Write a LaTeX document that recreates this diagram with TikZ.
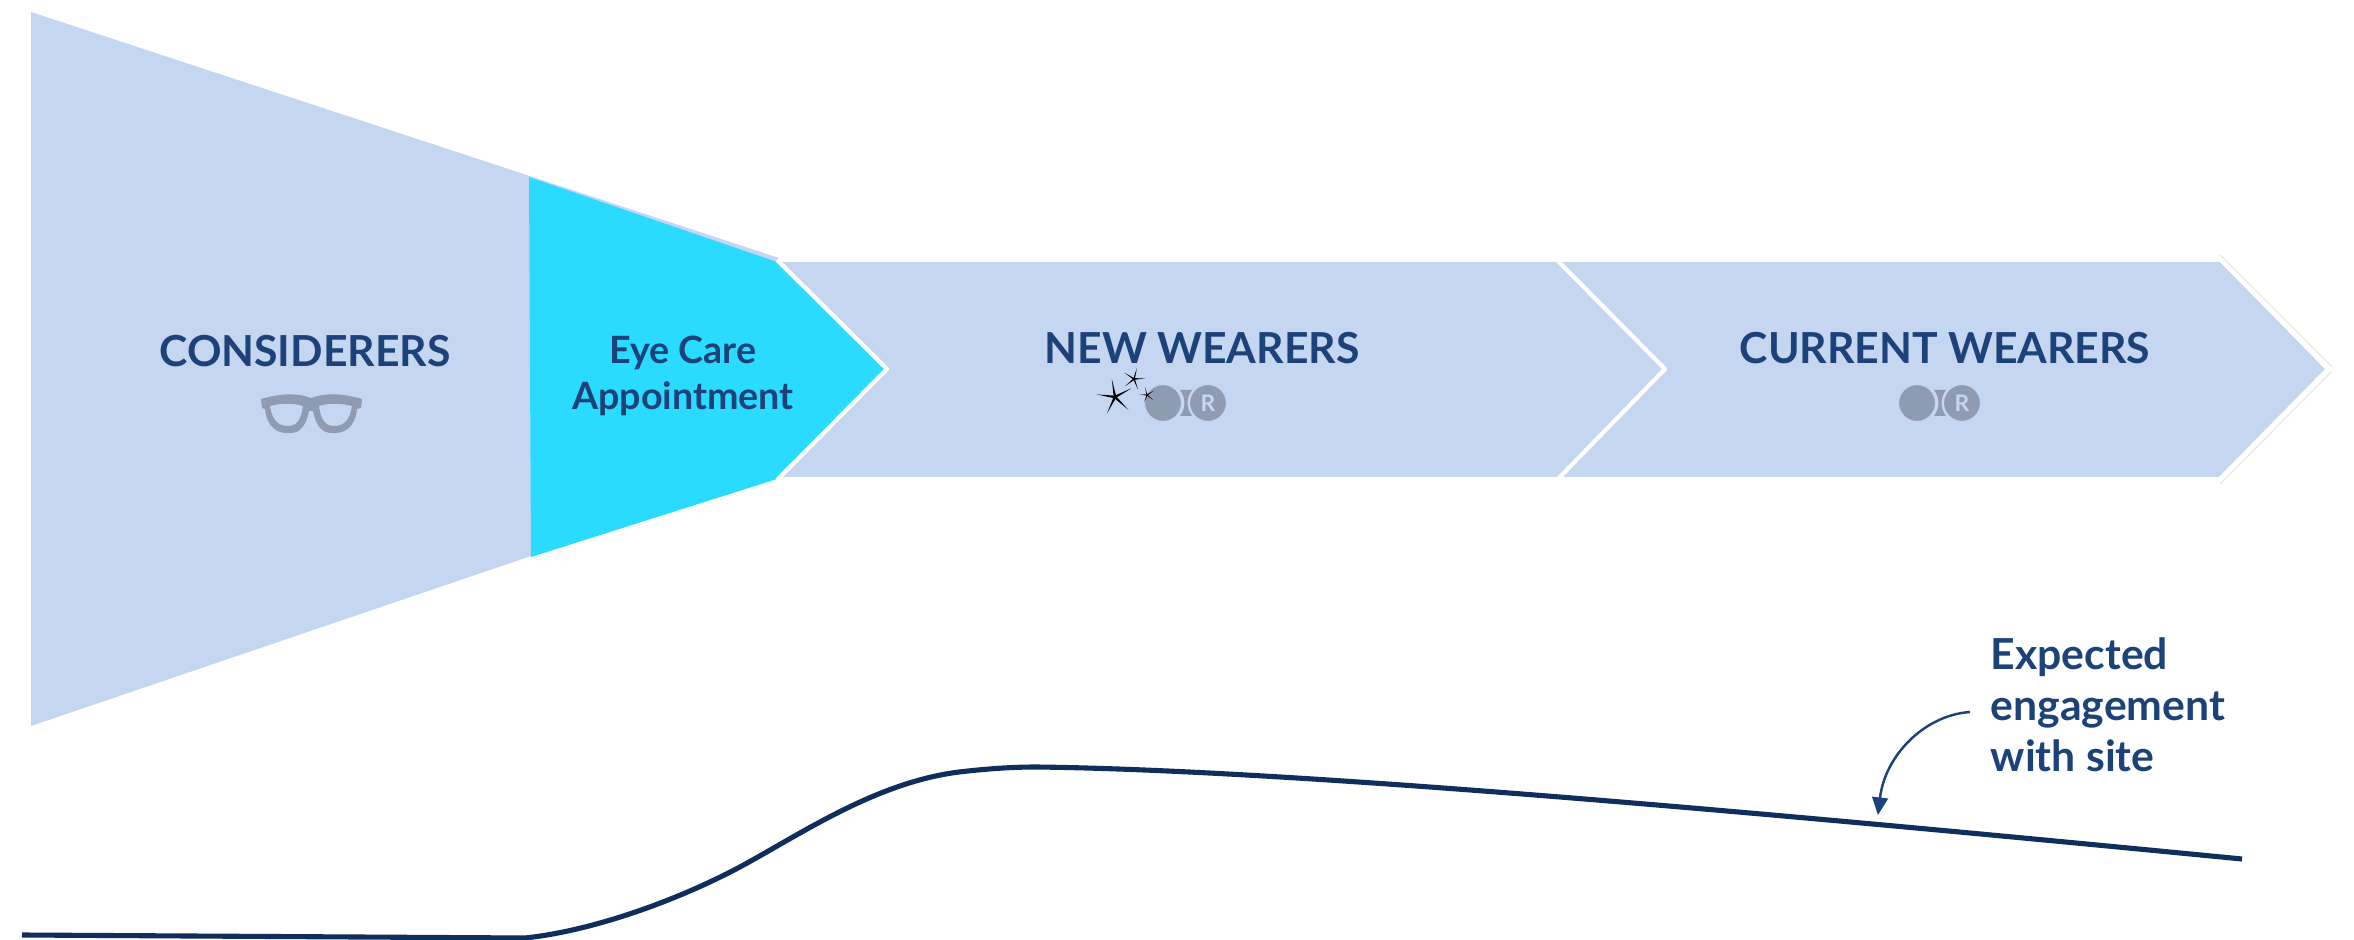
\documentclass[tikz,border=0pt]{standalone}
\usepackage{fontspec}
\setmainfont{Lato}
\definecolor{panelblue}{HTML}{C5D6F1}
\definecolor{cyan1}{HTML}{2ADBFF}
\definecolor{navy1}{HTML}{1C4279}
\definecolor{navy2}{HTML}{102E5C}
\definecolor{icongray}{HTML}{8E9BB0}
\definecolor{edgegray}{HTML}{E6E6E6}
\usetikzlibrary{shapes.geometric, arrows.meta, positioning}

\begin{document}
\begin{tikzpicture}[
  x=0.01cm, y=-0.01cm,
  title/.style  = {text=navy1, font=\fontsize{12.15}{15}\selectfont\bfseries, inner sep=0pt},
  appt/.style   = {text=navy1, font=\fontsize{10.7}{13.2}\selectfont\bfseries, align=center, inner sep=0pt},
  note/.style   = {text=navy1, font=\fontsize{12.15}{14.5}\selectfont\bfseries, align=left, inner sep=0pt},
  lens/.style   = {circle, fill=icongray, draw=panelblue, line width=0.3pt, minimum size=10.5pt, inner sep=0pt},
  spark/.style  = {star, star points=5, star point ratio=9, fill=black, inner sep=0pt},
  divide/.style = {draw=white, line width=1.2pt, line join=round},
  arr/.style    = {-{Triangle[length=5pt,width=4.5pt]}, navy1, line width=0.7pt}
]
\useasboundingbox (0,0) rectangle (2354,940);

% funnel and arrows
\fill[panelblue] (31,12) -- (779,258) -- (779,470) -- (531,556) -- (31,726) -- cycle;
\fill[panelblue] (777,262) -- (2220,262) -- (2329,369) -- (2220,477) -- (777,477) -- cycle;
\fill[cyan1] (529,177) -- (777,262) -- (887,369) -- (777,479) -- (531,557) -- cycle;

\draw[divide] (777,260) -- (887,369) -- (777,480);
\draw[divide] (1557,260) -- (1665,369) -- (1557,480);
\draw[divide] (2219,258) -- (2328,369) -- (2219,480);
\draw[edgegray, line width=0.3pt] (2220,255) -- (2332,367) (2332,371) -- (2220,484);

% labels
\node[title] (cons) at (305,351) {CONSIDERERS};
\node[appt]  (eye)  at (683,376) {Eye Care\\Appointment};
\node[title] (new)  at (1202,348) {NEW WEARERS};
\node[title] (curr) at (1945,348) {CURRENT WEARERS};

% glasses
\fill[icongray, even odd rule]
  (261,399) .. controls (285,392) and (300,394) .. (311,398) .. controls (322,394) and (338,392) .. (362,399)
  -- (361,408) -- (357,409) .. controls (355,428) and (344,434) .. (332,433)
  .. controls (322,433) and (316,426) .. (313,411) -- (309,411)
  .. controls (306,426) and (300,433) .. (290,433)
  .. controls (278,434) and (267,428) .. (265,409) -- (262,408) -- cycle
  (270,406) .. controls (280,403) and (295,403) .. (303,406) .. controls (301,421) and (296,426) .. (288,426)
  .. controls (278,426) and (272,420) .. (270,406) -- cycle
  (319,406) .. controls (327,403) and (342,403) .. (352,406) .. controls (350,420) and (344,426) .. (334,426)
  .. controls (326,426) and (321,421) .. (319,406) -- cycle;

% contact lenses
\foreach \nm/\cx in {newl/1163, curl/1917} {
  \fill[icongray] (\cx+17,390) .. controls (\cx+23,398) and (\cx+23,408) .. (\cx+17,416)
    -- (\cx+29,416) .. controls (\cx+23,408) and (\cx+23,398) .. (\cx+29,390) -- cycle;
  \node[lens] (\nm a) at (\cx,403) {};
  \node[lens] (\nm b) at (\cx+45,403) {};
  \node[text=panelblue, font=\fontsize{6.5}{7}\selectfont\bfseries, inner sep=0pt] (\nm r) at (\nm b) {R};
}

% sparkles
\node[spark, minimum size=10.5pt, rotate=10]  (sparka) at (1115,397) {};
\node[spark, minimum size=6.5pt, rotate=-15] (sparkb) at (1134,379) {};
\node[spark, minimum size=4.5pt, rotate=15]  (sparkc) at (1147,395) {};

% engagement curve
\draw[navy2, line width=1.45pt] (22,935) -- (525,938)
  .. controls (600,930) and (690,895) .. (749,862)
  .. controls (810,828) and (880,782) .. (959,772)
  .. controls (985,769) and (1010,767) .. (1036,767)
  .. controls (1300,770) and (1800,816) .. (2242,859);

\node[note, anchor=north west] (site) at (1990,637) {Expected\\engagement\\with site};
\coordinate (hit) at (1878,815);
\draw[arr] (1970,712) .. controls (1925,715) and (1885,755) .. (hit);
\end{tikzpicture}
\end{document}
